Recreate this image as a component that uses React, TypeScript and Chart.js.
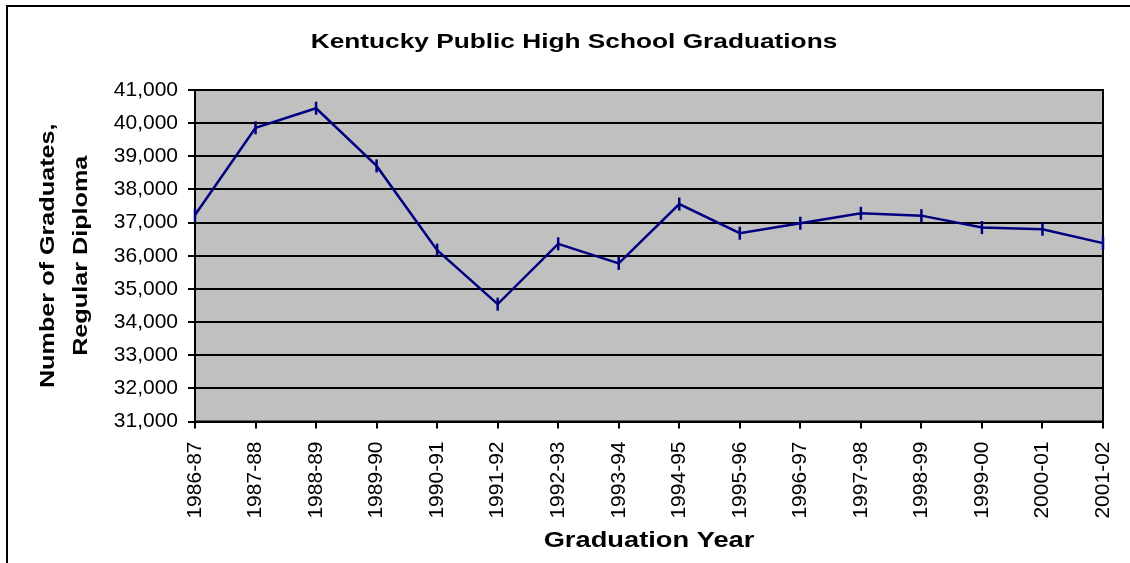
import { useEffect, useRef } from 'react';
import { Chart, registerables } from 'chart.js';

Chart.register(...registerables);

// ---- Data ----
const categories = [
  '1986-87', '1987-88', '1988-89', '1989-90', '1990-91', '1991-92', '1992-93', '1993-94',
  '1994-95', '1995-96', '1996-97', '1997-98', '1998-99', '1999-00', '2000-01', '2001-02',
];
const graduates = [
  37230, 39860, 40450, 38710, 36170, 34540, 36360, 35770,
  37560, 36680, 36980, 37280, 37210, 36850, 36800, 36380,
];
const yMin = 31000;
const yMax = 41000;
const yStep = 1000;
const chartTitle = 'Kentucky Public High School Graduations';
const xAxisTitle = 'Graduation Year';
const yAxisTitle = ['Number of Graduates,', 'Regular Diploma'];

// ---- Styling ----
const FONT = "Arial, 'Liberation Sans', Helvetica, sans-serif";
const W = 1130;
const H = 563;
const PLOT_LEFT = 195;
const PLOT_RIGHT = 1103;
const PLOT_BOTTOM = 421.5;
const TITLE_STRETCH = 1.25;
const TITLE_CENTER_X = 574;
const X_TITLE_STRETCH = 1.24;
const Y_TITLE_STRETCH = 1.2;

const decorPlugin = {
  id: 'decor',
  beforeDraw(chart: any) {
    const ctx = chart.ctx;
    const ca = chart.chartArea;
    ctx.save();
    // outer frame (left + top)
    ctx.strokeStyle = '#000';
    ctx.lineWidth = 2;
    ctx.beginPath();
    ctx.moveTo(7, H);
    ctx.lineTo(7, 6);
    ctx.lineTo(W, 6);
    ctx.stroke();
    // plot background
    ctx.fillStyle = '#C0C0C0';
    ctx.fillRect(ca.left, ca.top, ca.right - ca.left, ca.bottom - ca.top);
    ctx.restore();

    // stretch bold titles horizontally (like the reference rendering)
    const tb: any = chart.titleBlock;
    if (tb && !tb.__stretched) {
      const orig = tb.draw.bind(tb);
      tb.draw = (...args: any[]) => {
        const cx = (tb.left + tb.right) / 2;
        ctx.save();
        ctx.translate(TITLE_CENTER_X, 0);
        ctx.scale(TITLE_STRETCH, 1);
        ctx.translate(-cx, 0);
        orig(...args);
        ctx.restore();
      };
      tb.__stretched = true;
    }
    const sx: any = chart.scales.x;
    if (sx && !sx.__stretched) {
      const origX = sx.drawTitle.bind(sx);
      sx.drawTitle = () => {
        const cx = (sx.left + sx.right) / 2;
        ctx.save();
        ctx.translate(cx, 0);
        ctx.scale(X_TITLE_STRETCH, 1);
        ctx.translate(-cx, 0);
        origX();
        ctx.restore();
      };
      sx.__stretched = true;
    }
    const sy: any = chart.scales.y;
    if (sy && !sy.__stretched) {
      const origY = sy.drawTitle.bind(sy);
      sy.drawTitle = () => {
        const cy = (sy.top + sy.bottom) / 2;
        ctx.save();
        ctx.translate(0, cy);
        ctx.scale(1, Y_TITLE_STRETCH);
        ctx.translate(0, -cy);
        origY();
        ctx.restore();
      };
      sy.__stretched = true;
    }
  },
  beforeDatasetsDraw(chart: any) {
    const ctx = chart.ctx;
    const ca = chart.chartArea;
    ctx.save();
    ctx.strokeStyle = '#000';
    ctx.lineWidth = 2;
    ctx.strokeRect(ca.left, ca.top, ca.right - ca.left, ca.bottom - ca.top);
    ctx.restore();
  },
};

export default function App() {
  const canvasRef = useRef<HTMLCanvasElement | null>(null);

  useEffect(() => {
    if (!canvasRef.current) return;
    const chart = new Chart(canvasRef.current, {
      type: 'line',
      data: {
        labels: categories,
        datasets: [
          {
            label: 'Graduates',
            data: graduates,
            borderColor: '#000080',
            backgroundColor: '#000080',
            borderWidth: 2.5,
            tension: 0,
            pointStyle: 'line',
            pointRotation: 90,
            pointRadius: 6.5,
            pointHoverRadius: 6.5,
            pointBorderWidth: 2.5,
            pointBorderColor: '#000080',
            clip: false as any,
          },
        ],
      },
      options: {
        responsive: false,
        animation: false,
        devicePixelRatio: 1,
        layout: { padding: { left: 0, right: W - PLOT_RIGHT, top: 0, bottom: 0 } },
        plugins: {
          legend: { display: false },
          tooltip: { enabled: false },
          title: {
            display: true,
            text: chartTitle,
            color: '#000',
            font: { family: FONT, size: 21, weight: 'bold', lineHeight: 1.2 },
            padding: { top: 30, bottom: 34.8 },
          },
        },
        scales: {
          x: {
            type: 'category',
            offset: false,
            afterFit: (s: any) => {
              s.height = H - PLOT_BOTTOM;
              s.paddingLeft = 0;
              s.paddingRight = 0;
            },
            grid: {
              display: true,
              drawOnChartArea: false,
              drawTicks: true,
              tickLength: 7,
              color: '#000',
              lineWidth: 2,
            },
            border: { display: true, color: '#000', width: 2 },
            ticks: {
              autoSkip: false,
              maxRotation: 90,
              minRotation: 90,
              color: '#000',
              padding: 13,
              font: { family: FONT, size: 21 },
            },
            title: {
              display: true,
              text: xAxisTitle,
              color: '#000',
              font: { family: FONT, size: 22, weight: 'bold', lineHeight: 1.2 },
              padding: { top: 0, bottom: 9 },
            },
          },
          y: {
            min: yMin,
            max: yMax,
            afterFit: (s: any) => {
              s.width = PLOT_LEFT;
            },
            grid: {
              display: true,
              drawOnChartArea: true,
              drawTicks: true,
              tickLength: 7,
              color: '#000',
              lineWidth: 2,
            },
            border: { display: true, color: '#000', width: 2 },
            ticks: {
              stepSize: yStep,
              color: '#000',
              padding: 10,
              font: { family: FONT, size: 21 },
              callback: (v: any) => Number(v).toLocaleString('en-US'),
            },
            title: {
              display: true,
              text: yAxisTitle,
              color: '#000',
              font: { family: FONT, size: 21, weight: 'bold', lineHeight: 33 / 21 },
              padding: { top: 32, bottom: 0 },
            },
          },
        },
      },
      plugins: [decorPlugin],
    });
    return () => chart.destroy();
  }, []);

  return (
    <canvas
      ref={canvasRef}
      width={W}
      height={H}
      style={{ position: 'absolute', left: 0, top: 0, display: 'block', background: '#fff' }}
    />
  );
}
